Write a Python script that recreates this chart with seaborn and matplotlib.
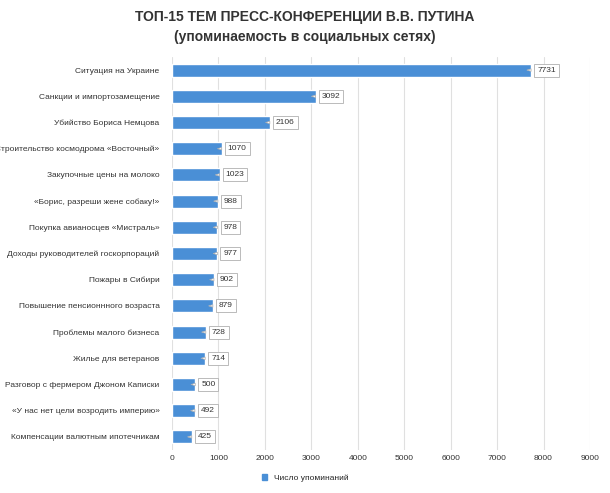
import matplotlib
matplotlib.use("Agg")
import matplotlib.pyplot as plt
import seaborn as sns
import pandas as pd
from matplotlib.patches import Patch

topics = ["Ситуация на Украине", "Санкции и импортозамещение", "Убийство Бориса Немцова",
          "Строительство космодрома «Восточный»", "Закупочные цены на молоко",
          "«Борис, разреши жене собаку!»", "Покупка авианосцев «Мистраль»",
          "Доходы руководителей госкорпораций", "Пожары в Сибири", "Повышение пенсионнного возраста",
          "Проблемы малого бизнеса", "Жилье для ветеранов", "Разговор с фермером Джоном Каписки",
          "«У нас нет цели возродить империю»", "Компенсации валютным ипотечникам"]
counts = [7731, 3092, 2106, 1070, 1023, 988, 978, 977, 902, 879, 728, 714, 500, 492, 425]
series_name = "Число упоминаний"

df = pd.DataFrame({"topic": topics, "count": counts})
sns.set_style("white")
plt.rcParams['font.family'] = ['Liberation Sans', 'DejaVu Sans']

fig = plt.figure(figsize=(6.10, 4.93), dpi=100)
ax = fig.add_axes([172/610, 1-450/493, (590-172)/610, (450-57)/493])
sns.barplot(data=df, x="count", y="topic", color="#4a8fd6", saturation=1, width=0.5, ax=ax, orient="h")
ax.set_xlim(0, 9000)
ax.set_xticks(range(0, 9001, 1000))
ax.xaxis.grid(True, color="#e0e0e0", lw=0.8)
ax.set_axisbelow(True)
for s in ax.spines.values():
    s.set_visible(False)
ax.set_xlabel(""); ax.set_ylabel("")
ax.tick_params(axis="both", length=0, labelsize=6, colors="#333333")
ax.tick_params(axis="y", pad=9)
for i, v in enumerate(counts):
    ax.annotate(str(v), xy=(v - 150, i), xytext=(v + 130, i), va="center", ha="left",
                fontsize=6, color="#333333",
                bbox=dict(boxstyle="square,pad=0.35", fc="white", ec="#b0b0b0", lw=0.6),
                arrowprops=dict(arrowstyle="wedge,tail_width=0.3", fc="white", ec="#b0b0b0", lw=0.5))
fig.text(0.5, 0.965, "ТОП-15 ТЕМ ПРЕСС-КОНФЕРЕНЦИИ В.В. ПУТИНА", ha="center", va="center",
         fontsize=10, fontweight="bold", color="#333333")
fig.text(0.5, 0.925, "(упоминаемость в социальных сетях)", ha="center", va="center",
         fontsize=10, fontweight="bold", color="#333333")
fig.legend(handles=[Patch(color="#4a8fd6", label=series_name)], loc="center",
           bbox_to_anchor=(0.5, 0.03), frameon=False, fontsize=6, handlelength=0.6, handleheight=0.6)
fig.savefig("out.png", dpi=100)
